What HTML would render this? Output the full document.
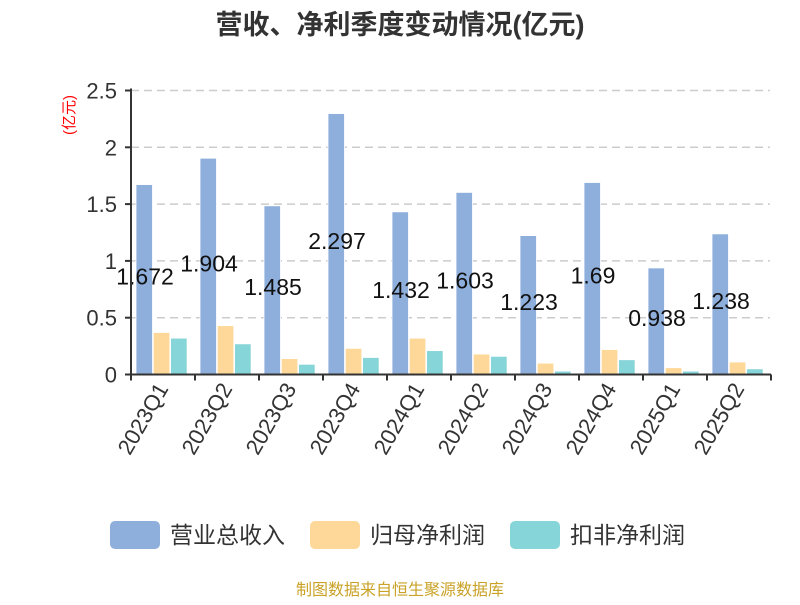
<!DOCTYPE html>
<html><head><meta charset="utf-8"><style>
body{margin:0;background:#fff;font-family:"Liberation Sans","Noto Sans CJK SC",sans-serif}
</style></head><body>
<svg width="800" height="600" xmlns="http://www.w3.org/2000/svg" font-family="Liberation Sans, Noto Sans CJK SC, sans-serif">
<text x="400" y="34" text-anchor="middle" font-size="27" font-weight="bold" fill="#333">营收、净利季度变动情况(亿元)</text>
<text transform="translate(74,115) rotate(-90)" text-anchor="middle" font-size="15" fill="#f00">(亿元)</text>
<g id="grid"></g><g id="bars"></g><g id="axes"></g>
<g>
<rect x="110" y="521" width="50" height="28" rx="5" fill="#8eaedb"/>
<text x="170" y="543" font-size="23" fill="#333">营业总收入</text>
<rect x="310" y="521" width="50" height="28" rx="5" fill="#fed898"/>
<text x="370" y="543" font-size="23" fill="#333">归母净利润</text>
<rect x="510" y="521" width="50" height="28" rx="5" fill="#86d5d8"/>
<text x="570" y="543" font-size="23" fill="#333">扣非净利润</text>
</g>
<text x="400" y="595" text-anchor="middle" font-size="16" fill="#c9a227">制图数据来自恒生聚源数据库</text>
</svg>
<script>
const categories=["2023Q1","2023Q2","2023Q3","2023Q4","2024Q1","2024Q2","2024Q3","2024Q4","2025Q1","2025Q2"];
const revenue=[1.672,1.904,1.485,2.297,1.432,1.603,1.223,1.69,0.938,1.238];
const parentProfit=[0.37,0.43,0.14,0.23,0.32,0.18,0.10,0.22,0.06,0.11];
const deductedProfit=[0.32,0.27,0.09,0.15,0.21,0.16,0.03,0.13,0.03,0.05];
const yTicks=[0,0.5,1,1.5,2,2.5];
const NS="http://www.w3.org/2000/svg";
const x0=131,cw=64,yBase=374.5,yTop=90.5,yMax=2.5;
const y=v=>yBase-(v/yMax)*(yBase-yTop);
function mk(t,a,p){const e=document.createElementNS(NS,t);for(const k in a)e.setAttribute(k,a[k]);p.appendChild(e);return e;}
const grid=document.getElementById('grid'),bars=document.getElementById('bars'),axes=document.getElementById('axes');
yTicks.forEach(v=>{
 if(v>0){const l=mk('line',{x1:x0,x2:770,y1:y(v),y2:y(v),stroke:'#ccc','stroke-dasharray':'8,5','stroke-width':1.5},grid);
 
 }
 const tk=mk('line',{x1:x0-6,x2:x0,y1:y(v),y2:y(v),stroke:'#333','stroke-width':2},axes);
 
 
 const t=mk('text',{x:x0-14,y:y(v)+8,'text-anchor':'end','font-size':22,fill:'#333'},axes);
 t.textContent=String(v);
 
 
});
const series=[[revenue,'#8eaedb','bar-revenue'],[parentProfit,'#fed898','bar-parent-profit'],[deductedProfit,'#86d5d8','bar-deducted-profit']];
categories.forEach((c,i)=>{
 const cx=x0+i*cw;
 series.forEach((s,j)=>{
  const v=s[0][i];
  const r=mk('rect',{x:cx+5+j*17.3,y:y(v),width:16.5,height:yBase-y(v),fill:s[1],stroke:'#fff','stroke-width':0.8},bars);
  
  
 });
 const lb=mk('text',{x:cx+14,y:(y(revenue[i])+yBase)/2+5,'text-anchor':'middle','font-size':23,fill:'#111'},bars);
 lb.textContent=String(revenue[i]);
 
 
 const tk=mk('line',{x1:cx,x2:cx,y1:yBase,y2:yBase+6,stroke:'#333','stroke-width':2},axes);
 
 
 const xt=mk('text',{transform:`translate(${cx+cw/2+6},${yBase+14}) rotate(-60)`,'text-anchor':'end','font-size':22,fill:'#333'},axes);
 xt.textContent=c;
 
 
});
const lt=mk('line',{x1:x0+10*cw,x2:x0+10*cw,y1:yBase,y2:yBase+6,stroke:'#333','stroke-width':2},axes);


const ya=mk('line',{x1:x0,x2:x0,y1:yTop-2,y2:yBase,stroke:'#333','stroke-width':2},axes);


const xa=mk('line',{x1:x0-6,x2:771,y1:yBase,y2:yBase,stroke:'#333','stroke-width':2},axes);


</script>
</body></html>
